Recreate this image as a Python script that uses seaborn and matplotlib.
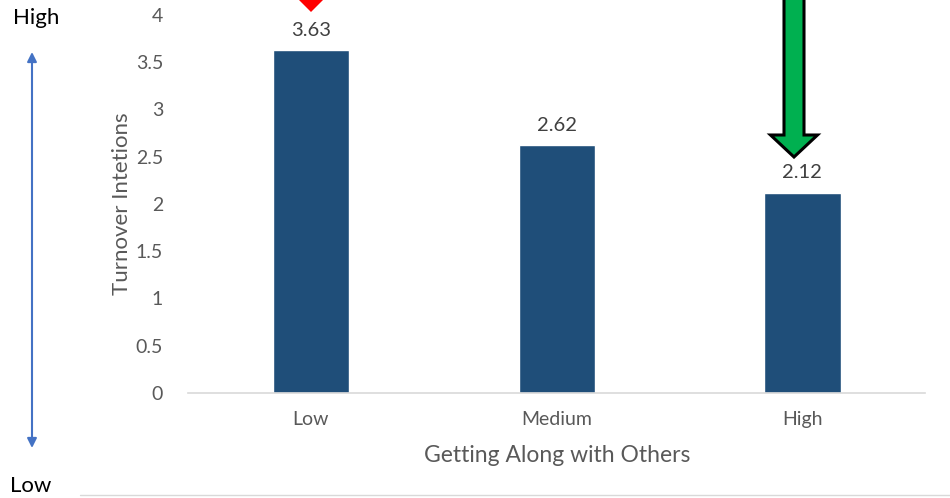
import matplotlib
matplotlib.use("Agg")
import matplotlib.pyplot as plt
import seaborn as sns
from matplotlib.patches import FancyArrow
from matplotlib.lines import Line2D

#------ data ------
categories = ["Low", "Medium", "High"]
turnover = [3.63, 2.62, 2.12]
y_ticks = [0, 0.5, 1, 1.5, 2, 2.5, 3, 3.5, 4]

sns.set_style("white")
plt.rcParams['font.family'] = ['Lato', 'DejaVu Sans']

fig = plt.figure(figsize=(9.5, 4.98), dpi=100)
ax = fig.add_axes([0.198, 0.211, 0.776, 0.759])

sns.barplot(x=categories, y=turnover, color="#1f4e79", width=0.31,
            saturation=1, ax=ax)
ax.bar_label(ax.containers[0], fmt="%.2f", padding=8,
             fontsize=14.5, color="#404040")

ax.set_xlim(-0.5, 2.5)
ax.set_ylim(0, 4)
ax.set_yticks(y_ticks)
ax.set_yticklabels([f"{t:g}" for t in y_ticks])
ax.tick_params(axis="both", length=0, labelsize=14, labelcolor="#595959")
ax.tick_params(axis="x", pad=13)
ax.tick_params(axis="y", pad=18)
ax.set_xlabel("Getting Along with Others", fontsize=16.5, color="#595959", labelpad=12)
ax.set_ylabel("Turnover Intetions", fontsize=16, color="#595959", labelpad=3)

for s in ["top", "right", "left"]:
    ax.spines[s].set_visible(False)
ax.spines["bottom"].set_color("#d9d9d9")
ax.spines["bottom"].set_linewidth(1.2)
ax.spines["bottom"].set_bounds(-0.5, 2.5)

#------ decorations (arrows, High/Low labels) in inches ------
tr = fig.dpi_scale_trans
fig.add_artist(FancyArrow(7.94, 5.2, 0, 3.41 - 5.2, width=0.20, head_width=0.47,
                          head_length=0.22, length_includes_head=True,
                          fc="#00b050", ec="black", lw=2.2, transform=tr))
fig.add_artist(FancyArrow(3.11, 5.3, 0, 4.86 - 5.3, width=0.12, head_width=0.34,
                          head_length=0.17, length_includes_head=True,
                          fc="#ff0000", ec="#ff0000", lw=0, transform=tr))

ax.annotate("", xy=(0.32, 4.46), xytext=(0.32, 0.50), xycoords=tr,
            textcoords=tr,
            arrowprops=dict(arrowstyle="<|-|>", color="#4472c4", lw=1.5,
                            mutation_scale=14, shrinkA=0, shrinkB=0))
fig.text(0.36, 4.80, "High", transform=tr, fontsize=16, color="black",
         ha="center", va="center")
fig.text(0.31, 0.12, "Low", transform=tr, fontsize=16, color="black",
         ha="center", va="center")
fig.add_artist(Line2D([0.80, 9.5], [0.03, 0.03], transform=tr,
                      color="#d9d9d9", lw=1))

fig.savefig("out.png", dpi=100)
